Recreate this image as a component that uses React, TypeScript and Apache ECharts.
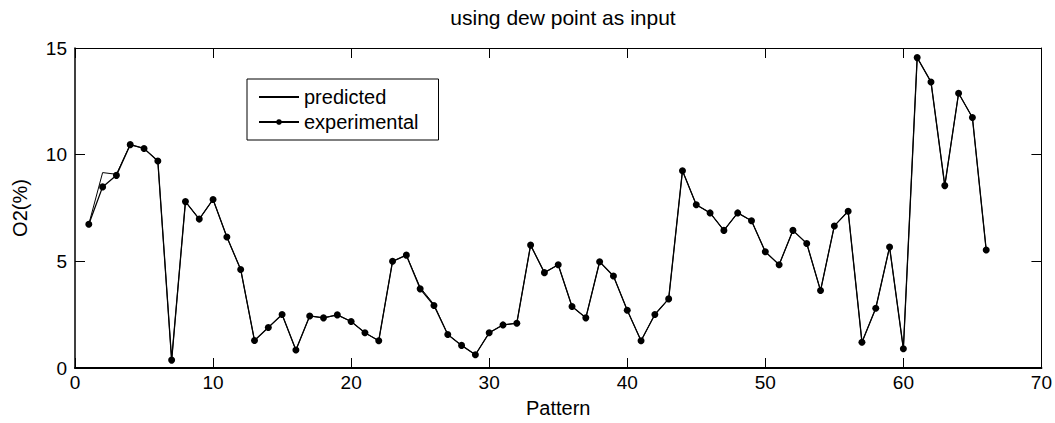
import React, { useEffect, useRef } from "react";
import * as echarts from "echarts";

const patterns: number[] = Array.from({ length: 66 }, (_, i) => i + 1);

const experimental: number[] = [
  6.74, 8.49, 9.03, 10.47, 10.29, 9.7, 0.37, 7.8, 6.98, 7.9,
  6.14, 4.62, 1.29, 1.9, 2.51, 0.84, 2.44, 2.35, 2.49, 2.18,
  1.65, 1.28, 5.0, 5.29, 3.71, 2.93, 1.57, 1.06, 0.62, 1.65,
  2.02, 2.1, 5.76, 4.47, 4.84, 2.88, 2.35, 4.98, 4.31, 2.71,
  1.28, 2.51, 3.24, 9.25, 7.65, 7.27, 6.45, 7.27, 6.9, 5.45,
  4.84, 6.45, 5.84, 3.63, 6.66, 7.35, 1.21, 2.8, 5.67, 0.9,
  14.55, 13.41, 8.55, 12.88, 11.74, 5.53,
];

const predicted: number[] = [
  6.74, 9.16, 9.08, 10.47, 10.29, 9.7, 0.37, 7.8, 6.98, 7.9,
  6.14, 4.62, 1.29, 1.9, 2.51, 0.84, 2.44, 2.35, 2.49, 2.18,
  1.65, 1.28, 5.0, 5.29, 3.78, 2.98, 1.57, 1.06, 0.62, 1.65,
  2.02, 2.1, 5.76, 4.47, 4.84, 2.88, 2.35, 4.98, 4.31, 2.71,
  1.28, 2.51, 3.24, 9.25, 7.65, 7.27, 6.45, 7.27, 6.9, 5.45,
  4.84, 6.45, 5.84, 3.63, 6.66, 7.35, 1.21, 2.8, 5.67, 0.9,
  14.55, 13.41, 8.55, 12.88, 11.74, 5.53,
];

const FONT = "'Liberation Sans', Arial, Helvetica, sans-serif";

export default function App() {
  const ref = useRef<HTMLDivElement>(null);
  useEffect(() => {
    if (!ref.current) return;
    const chart = echarts.init(ref.current, undefined, { renderer: "svg" });
    const axisCommon = {
      axisLine: { show: true, onZero: false, lineStyle: { color: "#000", width: 2 } },
      axisTick: { show: true, inside: true, length: 10, lineStyle: { color: "#000", width: 1 } },
      splitLine: { show: false },
    };
    chart.setOption({
      animation: false,
      backgroundColor: "#fff",
      title: {
        text: "using dew point as input",
        left: 558,
        textAlign: "center",
        top: 2,
        textStyle: { fontFamily: FONT, fontSize: 21, fontWeight: "normal", color: "#000" },
      },
      grid: { left: 75, right: 13, top: 48, bottom: 48, containLabel: false },
      legend: {
        orient: "vertical",
        left: 247,
        top: 79,
        padding: [8, 20, 8, 11],
        itemGap: 5,
        itemWidth: 40,
        itemHeight: 7,
        borderColor: "#000",
        borderWidth: 1,
        backgroundColor: "#fff",
        textStyle: { fontFamily: FONT, fontSize: 20, color: "#000" },
        data: [
          { name: "predicted", itemStyle: { opacity: 0 } },
          { name: "experimental" },
        ],
      },
      xAxis: [
        {
          type: "value",
          min: 0,
          max: 70,
          interval: 10,
          name: "Pattern",
          nameLocation: "middle",
          nameGap: 30,
          nameTextStyle: { fontFamily: FONT, fontSize: 20, color: "#000" },
          axisLabel: { fontFamily: FONT, fontSize: 19, color: "#000", margin: 5 },
          ...axisCommon,
        },
        {
          type: "value",
          position: "top",
          min: 0,
          max: 70,
          interval: 10,
          axisLabel: { show: false },
          ...axisCommon,
          axisLine: { show: true, onZero: false, lineStyle: { color: "#000", width: 1 } },
        },
      ],
      yAxis: [
        {
          type: "value",
          min: 0,
          max: 15,
          interval: 5,
          name: "O2(%)",
          nameLocation: "middle",
          nameGap: 45,
          nameTextStyle: { fontFamily: FONT, fontSize: 20, color: "#000" },
          axisLabel: { fontFamily: FONT, fontSize: 19, color: "#000", margin: 8 },
          ...axisCommon,
          axisLine: { show: true, onZero: false, lineStyle: { color: "#000", width: 1.5 } },
        },
        {
          type: "value",
          position: "right",
          min: 0,
          max: 15,
          interval: 5,
          axisLabel: { show: false },
          ...axisCommon,
          axisLine: { show: true, onZero: false, lineStyle: { color: "#000", width: 1 } },
        },
      ],
      series: [
        {
          name: "predicted",
          type: "line",
          data: patterns.map((p, i) => [p, predicted[i]]),
          symbol: "none",
          lineStyle: { color: "#000", width: 1 },
          itemStyle: { color: "#000" },
          z: 2,
        },
        {
          name: "experimental",
          type: "line",
          data: patterns.map((p, i) => [p, experimental[i]]),
          symbol: "circle",
          symbolSize: 7,
          showAllSymbol: true,
          lineStyle: { color: "#000", width: 1.3 },
          itemStyle: { color: "#000" },
          z: 3,
        },
      ],
    });
    return () => chart.dispose();
  }, []);
  return <div ref={ref} style={{ width: 1055, height: 423, position: "absolute", left: 0, top: 0 }} />;
}
